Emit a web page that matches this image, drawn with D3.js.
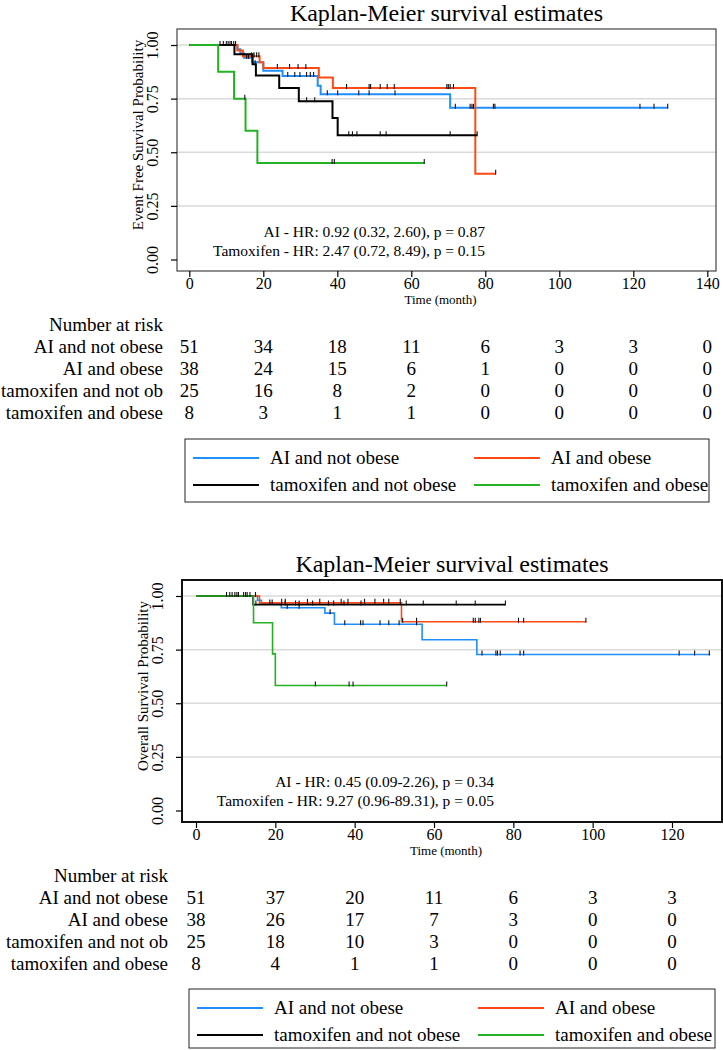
<!DOCTYPE html>
<html><head><meta charset="utf-8">
<script src="https://cdn.jsdelivr.net/npm/d3@7"></script>
<style>
body{margin:0;background:#fff}
svg{display:block}
text{font-family:"Liberation Serif","Times New Roman",serif;fill:#000}
</style>
</head><body>
<svg id="c" width="723" height="1050"></svg>
<script>
// ---------------- DATA ----------------
const groups = ["AI and not obese", "AI and obese", "tamoxifen and not obese", "tamoxifen and obese"];
const riskLabels = ["AI and not obese", "AI and obese", "tamoxifen and not ob", "tamoxifen and obese"];
const title = "Kaplan-Meier survival estimates";
const xTitle = "Time (month)";
const yTicks = [0, 0.25, 0.5, 0.75, 1];
const gridVals = [0.25, 0.5, 0.75, 1];

// Event free survival (top panel)
const efsXTicks = [0, 20, 40, 60, 80, 100, 120, 140];
const efsAiNotObT = [0, 13.0, 13.8, 14.8, 17.0, 20.0, 25.2, 34.7, 35.5, 70.5, 129.3];
const efsAiNotObS = [1, 0.98, 0.96, 0.94, 0.92, 0.88, 0.856, 0.81, 0.77, 0.707, 0.707];
const efsAiNotObC = [11.0, 12.0, 15.5, 16.0, 26.6, 28.5, 29.9, 31.7, 32.7, 33.6, 37.3, 40.1, 45.8, 48.6, 55.6, 71.9, 75.9, 76.4, 76.8, 82.2, 82.6, 121.8, 125.6, 129.3];
const efsAiObT = [0, 13.0, 14.5, 19.0, 20.0, 35.0, 38.8, 77.3, 82.8];
const efsAiObS = [1, 0.974, 0.947, 0.92, 0.893, 0.848, 0.80, 0.40, 0.40];
const efsAiObC = [12.5, 16.8, 17.5, 18.2, 18.8, 23.8, 27.1, 29.4, 31.5, 42.5, 48.6, 49.0, 51.6, 53.5, 55.4, 69.6, 70.0, 70.5, 71.4, 82.8];
const efsTamNotObT = [0, 12.2, 17.1, 18.0, 24.3, 29.6, 38.7, 40.1, 77.8];
const efsTamNotObS = [1, 0.957, 0.91, 0.858, 0.80, 0.738, 0.66, 0.579, 0.579];
const efsTamNotObC = [8.3, 9.2, 10.0, 10.5, 11.4, 17.8, 31.7, 33.9, 43.1, 44.1, 45.3, 51.6, 53.2, 70.5, 77.8];
const efsTamObT = [0, 7.8, 12.1, 15.2, 18.4, 63.5];
const efsTamObS = [1, 0.875, 0.75, 0.60, 0.45, 0.45];
const efsTamObC = [15.0, 38.6, 39.2, 63.5];
const efsRiskAiNotOb = [51, 34, 18, 11, 6, 3, 3, 0];
const efsRiskAiOb = [38, 24, 15, 6, 1, 0, 0, 0];
const efsRiskTamNotOb = [25, 16, 8, 2, 0, 0, 0, 0];
const efsRiskTamOb = [8, 3, 1, 1, 0, 0, 0, 0];
const efsNotes = ["AI - HR: 0.92 (0.32, 2.60), p = 0.87", "Tamoxifen - HR: 2.47 (0.72, 8.49), p = 0.15"];

// Overall survival (bottom panel)
const osXTicks = [0, 20, 40, 60, 80, 100, 120];
const osAiNotObT = [0, 15.5, 16.5, 21.5, 32.5, 34.9, 57.0, 70.8, 129.4];
const osAiNotObS = [1, 0.98, 0.965, 0.945, 0.92, 0.868, 0.796, 0.727, 0.727];
const osAiNotObC = [18.6, 19.2, 23.0, 26.0, 33.8, 37.5, 41.5, 42.1, 46.4, 48.6, 51.2, 55.6, 72.1, 75.6, 76.0, 76.7, 81.7, 82.6, 121.8, 125.7, 129.4];
const osAiObT = [0, 16.0, 51.8, 98.3];
const osAiObS = [1, 0.968, 0.88, 0.88];
const osAiObC = [15.0, 21.6, 22.5, 28.1, 31.2, 36.6, 38.3, 42.5, 45.1, 47.3, 48.6, 51.5, 52.1, 55.6, 69.9, 70.4, 71.3, 71.7, 81.3, 82.6, 98.3];
const osTamNotObT = [0, 14.4, 78.0];
const osTamNotObS = [1, 0.96, 0.96];
const osTamNotObC = [7.7, 8.5, 9.1, 9.8, 10.3, 10.7, 12.0, 12.5, 12.9, 13.6, 15.1, 22.5, 25.1, 26.0, 29.4, 33.4, 34.7, 37.3, 41.6, 53.0, 57.3, 65.6, 70.4, 78.0];
const osTamObT = [0, 14.5, 19.3, 20.0, 63.2];
const osTamObS = [1, 0.875, 0.73, 0.583, 0.583];
const osTamObC = [30.1, 38.6, 39.6, 63.2];
const osRiskAiNotOb = [51, 37, 20, 11, 6, 3, 3];
const osRiskAiOb = [38, 26, 17, 7, 3, 0, 0];
const osRiskTamNotOb = [25, 18, 10, 3, 0, 0, 0];
const osRiskTamOb = [8, 4, 1, 1, 0, 0, 0];
const osNotes = ["AI - HR: 0.45 (0.09-2.26), p = 0.34", "Tamoxifen - HR: 9.27 (0.96-89.31), p = 0.05"];

// ---------------- STYLE / LAYOUT ----------------
const colors = ["#1e8fff", "#ff4a14", "#000000", "#22b222"];
const svg = d3.select("#c");

function stepVal(T, S, t) {
  let v = S[0];
  for (let i = 0; i < T.length; i++) if (T[i] <= t) v = S[i];
  return v;
}

function panel(o) {
  const g = svg.append("g");
  const F = o.frame;
  const x = d3.scaleLinear().domain([o.xTicks[0], o.xTicks[o.xTicks.length - 1]]).range(o.xRange);
  const y = d3.scaleLinear().domain([0, 1]).range(o.yRange);
  const cx = (F.l + F.r) / 2;

  g.append("text").attr("x", cx).attr("y", o.titleY).attr("text-anchor", "middle")
    .style("font-size", "24px").text(title);

  g.selectAll("line.grid").data(gridVals).join("line").attr("class", "grid")
    .attr("x1", F.l).attr("x2", F.r).attr("y1", d => y(d)).attr("y2", d => y(d))
    .attr("stroke", "#dadada").attr("stroke-width", 1.5);

  const line = d3.line().x(d => x(d[0])).y(d => y(d[1])).curve(d3.curveStepAfter);
  o.series.forEach((s, i) => {
    const pts = s.T.map((t, k) => [t, s.S[k]]);
    g.append("path").attr("d", line(pts)).attr("fill", "none")
      .attr("stroke", colors[i]).attr("stroke-width", o.lw);
  });
  o.series.forEach((s, i) => {
    g.selectAll(null).data(s.C).join("line")
      .attr("x1", d => x(d)).attr("x2", d => x(d))
      .attr("y1", d => y(stepVal(s.T, s.S, d)) - 4).attr("y2", d => y(stepVal(s.T, s.S, d)) + 1)
      .attr("stroke", "#111").attr("stroke-width", 1.1);
  });

  g.append("rect").attr("x", F.l).attr("y", F.t).attr("width", F.r - F.l).attr("height", F.b - F.t)
    .attr("fill", "none").attr("stroke", o.frameColor).attr("stroke-width", o.frameW);

  // y axis
  const yg = g.append("g").attr("transform", `translate(${F.l},0)`)
    .call(d3.axisLeft(y).tickValues(yTicks).tickSize(6).tickFormat(d3.format(".2f")));
  yg.select(".domain").remove();
  yg.selectAll(".tick line").attr("stroke", "#000").attr("stroke-width", 1.2);
  yg.selectAll(".tick text").attr("transform", "rotate(-90)").attr("x", 0).attr("y", -o.yTickBase)
    .attr("dy", null).attr("text-anchor", "middle").style("font-size", "16px");

  g.append("text").attr("transform", `translate(${F.l - o.yLabBase},${(F.t + F.b) / 2 - 15}) rotate(-90)`)
    .attr("text-anchor", "middle").style("font-size", "15px").text(o.yTitle);

  // x axis
  const xg = g.append("g").attr("transform", `translate(0,${F.b})`)
    .call(d3.axisBottom(x).tickValues(o.xTicks).tickSize(6));
  xg.select(".domain").remove();
  xg.selectAll(".tick line").attr("stroke", "#000").attr("stroke-width", 1.2);
  xg.selectAll(".tick text").attr("y", 18).attr("dy", null).style("font-size", "16px");

  g.append("text").attr("x", cx - 6).attr("y", F.b + 33).attr("text-anchor", "middle")
    .style("font-size", "13px").text(xTitle);

  // notes
  o.notes.forEach((t, i) => {
    g.append("text").attr("x", o.noteX).attr("y", o.noteY + i * 18.5).attr("text-anchor", "end")
      .style("font-size", "15.5px").text(t);
  });

  // risk table
  const rt = F.b + 60;
  g.append("text").attr("x", o.riskLabX).attr("y", rt).attr("text-anchor", "end")
    .style("font-size", "19px").text("Number at risk");
  o.risk.forEach((r, i) => {
    const yy = rt + 22 * (i + 1);
    g.append("text").attr("x", o.riskLabX).attr("y", yy).attr("text-anchor", "end")
      .style("font-size", "19px").text(riskLabels[i]);
    g.selectAll(null).data(r).join("text")
      .attr("x", (d, k) => x(o.xTicks[k])).attr("y", yy).attr("text-anchor", "middle")
      .style("font-size", "19px").text(d => d);
  });

  // legend
  const L = o.legend;
  g.append("rect").attr("x", L.l).attr("y", L.t).attr("width", L.r - L.l).attr("height", L.b - L.t)
    .attr("fill", "none").attr("stroke", "#222").attr("stroke-width", 1);
  groups.forEach((name, i) => {
    const col = i % 2, row = Math.floor(i / 2);
    const lx = L.l + 8 + col * (L.colW);
    const ly = L.t + 19 + row * 27;
    g.append("line").attr("x1", lx).attr("x2", lx + 66).attr("y1", ly).attr("y2", ly)
      .attr("stroke", colors[i]).attr("stroke-width", 2);
    g.append("text").attr("x", lx + 77).attr("y", ly + 6).style("font-size", "19px").text(name);
  });
}

panel({
  frame: {l: 177, t: 29, r: 716, b: 271},
  xRange: [189.3, 707.3], yRange: [259.5, 45], xTicks: efsXTicks,
  titleY: 21, lw: 2, frameColor: "#444", frameW: 1.2,
  yTickBase: 19, yLabBase: 34, yTitle: "Event Free Survival Probability",
  notes: efsNotes, noteX: 485, noteY: 237,
  riskLabX: 163,
  risk: [efsRiskAiNotOb, efsRiskAiOb, efsRiskTamNotOb, efsRiskTamOb],
  legend: {l: 185, t: 439, r: 709, b: 502, colW: 281},
  series: [
    {T: efsAiNotObT, S: efsAiNotObS, C: efsAiNotObC},
    {T: efsAiObT, S: efsAiObS, C: efsAiObC},
    {T: efsTamNotObT, S: efsTamNotObS, C: efsTamNotObC},
    {T: efsTamObT, S: efsTamObS, C: efsTamObC}
  ]
});

panel({
  frame: {l: 182, t: 580, r: 722, b: 822},
  xRange: [196, 672], yRange: [810.5, 596], xTicks: osXTicks,
  titleY: 572, lw: 1.6, frameColor: "#111", frameW: 2,
  yTickBase: 19, yLabBase: 34, yTitle: "Overall Survival Probability",
  notes: osNotes, noteX: 494, noteY: 787,
  riskLabX: 168,
  risk: [osRiskAiNotOb, osRiskAiOb, osRiskTamNotOb, osRiskTamOb],
  legend: {l: 189, t: 989, r: 715, b: 1048, colW: 281},
  series: [
    {T: osAiNotObT, S: osAiNotObS, C: osAiNotObC},
    {T: osAiObT, S: osAiObS, C: osAiObC},
    {T: osTamNotObT, S: osTamNotObS, C: osTamNotObC},
    {T: osTamObT, S: osTamObS, C: osTamObC}
  ]
});
</script>
</body></html>
